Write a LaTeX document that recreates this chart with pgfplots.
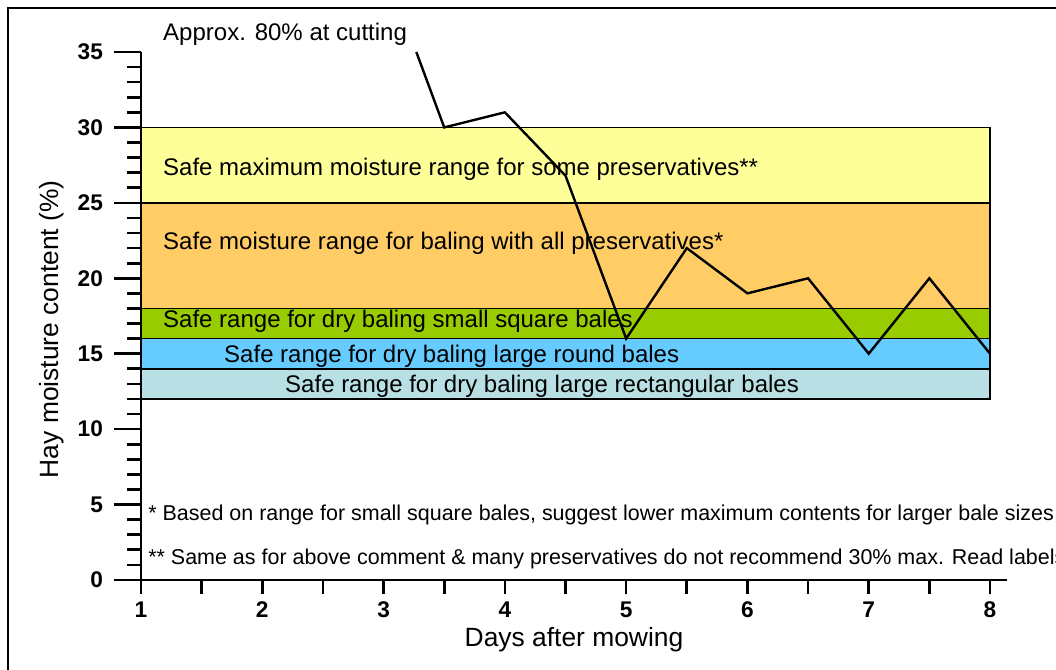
\documentclass[border=0pt]{standalone}
\usepackage{pgfplots}
\pgfplotsset{compat=1.18}
\usepackage{fontspec}
\setmainfont{Liberation Sans}
\definecolor{cyel}{HTML}{FFFF99}
\definecolor{cora}{HTML}{FFCC66}
\definecolor{cgre}{HTML}{99CC00}
\definecolor{cblu}{HTML}{66CCFF}
\definecolor{clig}{HTML}{B8E0E4}
\begin{document}
\begin{tikzpicture}
\useasboundingbox (0,0) rectangle (792pt,502.5pt);
\clip (0,0) rectangle (792pt,502.5pt);
\fill[white] (0,0) rectangle (792pt,502.5pt);
\draw[line width=2pt] (6pt,-20pt) -- (6pt,496.5pt) -- (820pt,496.5pt);
\begin{axis}[
  at={(105.75pt,67.5pt)}, anchor=south west,
  scale only axis, width=649.5pt, height=396pt,
  xmin=1, xmax=8.14, ymin=0, ymax=35,
  axis x line=bottom, axis y line=left,
  axis line style={-, line width=2pt},
  clip=false,
  tick align=outside,
  major tick length=20pt, minor tick length=10.5pt,
  every tick/.append style={black, line width=2pt},
  xtick={1,2,3,4,5,6,7,8}, minor xtick={1,1.5,...,8},
  xticklabels={1,2,3,4,5,6,7,8},
  major x tick style={draw=none},
  ytick={0,5,10,15,20,25,30,35}, minor ytick={0,...,35},
  yticklabels={0,5,10,15,20,25,30,35},
  xticklabel style={font=\bfseries\fontsize{17}{20}\selectfont, yshift=7pt},
  yticklabel style={font=\bfseries\fontsize{17}{20}\selectfont, xshift=-5pt},
  xlabel={Days after mowing},
  ylabel={Hay moisture content (\%)},
  label style={font=\fontsize{19.8}{23}\selectfont},
  xlabel style={at={(axis description cs:0.5,-0.1136)}, anchor=center},
  ylabel style={at={(axis description cs:-0.1028,0.475)}, anchor=center, rotate=0},
]
\addplot[draw=black, line width=1.2pt, fill=cyel] coordinates {(1,25) (8,25) (8,30) (1,30)} -- cycle;
\addplot[draw=black, line width=1.2pt, fill=cora] coordinates {(1,18) (8,18) (8,25) (1,25)} -- cycle;
\addplot[draw=black, line width=1.2pt, fill=cgre] coordinates {(1,16) (8,16) (8,18) (1,18)} -- cycle;
\addplot[draw=black, line width=1.2pt, fill=cblu] coordinates {(1,14) (8,14) (8,16) (1,16)} -- cycle;
\addplot[draw=black, line width=1.2pt, fill=clig] coordinates {(1,12) (8,12) (8,14) (1,14)} -- cycle;
\node[anchor=west, inner sep=0pt, font=\fontsize{18}{21}\selectfont] at (axis cs:1.181,27.24) {Safe maximum moisture range for some preservatives**};
\node[anchor=west, inner sep=0pt, font=\fontsize{18}{21}\selectfont] at (axis cs:1.181,22.34) {Safe moisture range for baling with all preservatives*};
\node[anchor=west, inner sep=0pt, font=\fontsize{18}{21}\selectfont] at (axis cs:1.181,17.15) {Safe range for dry baling small square bales};
\node[anchor=west, inner sep=0pt, font=\fontsize{18}{21}\selectfont] at (axis cs:1.684,14.85) {Safe range for dry baling large round bales};
\node[anchor=west, inner sep=0pt, font=\fontsize{18}{21}\selectfont] at (axis cs:2.187,12.85) {Safe range for dry baling large rectangular bales};
\addplot[black, line width=1.8pt, mark=none] coordinates {(3.27,35) (3.5,30) (4,31) (4.5,26.8) (5,16) (5.5,22) (6,19) (6.5,20) (7,15) (7.5,20) (8,15)};
\node[anchor=west, inner sep=0pt, font=\fontsize{18}{21}\selectfont] at (axis cs:1.181,36.19) {Approx. 80\% at cutting};
\node[anchor=west, inner sep=0pt, font=\fontsize{16.1}{19}\selectfont] at (axis cs:1.058,4.31) {* Based on range for small square bales, suggest lower maximum contents for larger bale sizes};
\node[anchor=west, inner sep=0pt, font=\fontsize{16.1}{19}\selectfont] at (axis cs:1.058,1.39) {** Same as for above comment \& many preservatives do not recommend 30\% max. Read labels};
\end{axis}
\end{tikzpicture}
\end{document}
